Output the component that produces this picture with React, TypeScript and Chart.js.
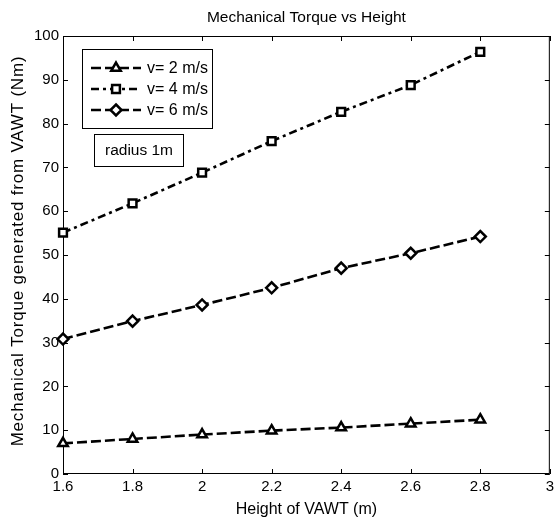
import React, { useEffect, useRef } from "react";
import { Chart, registerables } from "chart.js";

Chart.register(...registerables);

const heights = [1.6, 1.8, 2.0, 2.2, 2.4, 2.6, 2.8];
const torqueV2 = [7.0, 8.0, 9.0, 9.9, 10.6, 11.5, 12.4];
const torqueV4 = [55.1, 61.8, 68.8, 76.0, 82.7, 88.8, 96.4];
const torqueV6 = [30.8, 34.9, 38.6, 42.5, 47.0, 50.4, 54.2];
const seriesLabels = ["v= 2 m/s", "v= 4 m/s", "v= 6 m/s"];
const xTicks = [1.6, 1.8, 2, 2.2, 2.4, 2.6, 2.8, 3];
const yTicks = [0, 10, 20, 30, 40, 50, 60, 70, 80, 90, 100];
const titleText = "Mechanical Torque vs Height";
const xTitle = "Height of VAWT (m)";
const yTitle = "Mechanical Torque generated from VAWT (Nm)";
const noteText = "radius 1m";

const FONT = "'Liberation Sans', Arial, sans-serif";

function drawMarker(ctx: CanvasRenderingContext2D, style: string, x: number, y: number, r: number, bw: number) {
  ctx.beginPath();
  if (style === "triangle") {
    const h = 1.5 * r;
    const w = r * Math.sqrt(3);
    ctx.moveTo(x, y - r);
    ctx.lineTo(x + w / 2, y - r + h);
    ctx.lineTo(x - w / 2, y - r + h);
    ctx.closePath();
  } else if (style === "rect") {
    const s = r / Math.SQRT2;
    ctx.rect(x - s, y - s, 2 * s, 2 * s);
  } else {
    ctx.moveTo(x, y - r);
    ctx.lineTo(x + r, y);
    ctx.lineTo(x, y + r);
    ctx.lineTo(x - r, y);
    ctx.closePath();
  }
  ctx.fillStyle = "#fff";
  ctx.fill();
  ctx.setLineDash([]);
  ctx.lineWidth = bw;
  ctx.strokeStyle = "#000";
  ctx.stroke();
}

const framePlugin = {
  id: "frame",
  beforeDatasetsDraw(chart: any) {
    const { ctx, chartArea: a, scales } = chart;
    ctx.save();
    ctx.strokeStyle = "#000";
    ctx.lineWidth = 1;
    ctx.setLineDash([]);
    ctx.strokeRect(a.left + 0.5, a.top + 0.5, a.right - a.left - 1, a.bottom - a.top - 1);
    const L = 5;
    ctx.beginPath();
    xTicks.forEach((v) => {
      const px = Math.round(scales.x.getPixelForValue(v)) + 0.5;
      ctx.moveTo(px, a.bottom);
      ctx.lineTo(px, a.bottom - L);
      ctx.moveTo(px, a.top);
      ctx.lineTo(px, a.top + L);
    });
    yTicks.forEach((v) => {
      const py = Math.round(scales.y.getPixelForValue(v)) + 0.5;
      ctx.moveTo(a.left, py);
      ctx.lineTo(a.left + L, py);
      ctx.moveTo(a.right, py);
      ctx.lineTo(a.right - L, py);
    });
    ctx.stroke();

    // y axis title
    ctx.save();
    ctx.translate(18, (a.top + a.bottom) / 2 - 4);
    ctx.rotate(-Math.PI / 2);
    ctx.fillStyle = "#000";
    ctx.font = "17px " + FONT;
    (ctx as any).letterSpacing = "0.8px";
    ctx.textAlign = "center";
    ctx.textBaseline = "middle";
    ctx.fillText(yTitle, 0, 0);
    ctx.restore();
    ctx.restore();
  },
  afterDraw(chart: any) {
    const { ctx } = chart;
    ctx.save();
    // legend box
    const bx = 82.5, by = 49.5, bw = 130, bh = 79;
    ctx.fillStyle = "#fff";
    ctx.fillRect(bx, by, bw, bh);
    ctx.strokeStyle = "#000";
    ctx.lineWidth = 1;
    ctx.setLineDash([]);
    ctx.strokeRect(bx, by, bw, bh);
    const rows = [68, 89, 110];
    chart.data.datasets.forEach((ds: any, i: number) => {
      const y = rows[i];
      ctx.beginPath();
      ctx.setLineDash(ds.borderDash || []);
      ctx.lineWidth = ds.borderWidth;
      ctx.strokeStyle = "#000";
      ctx.moveTo(91, y);
      ctx.lineTo(141, y);
      ctx.stroke();
      drawMarker(ctx, ds.pointStyle, 116, y, ds.pointRadius, ds.pointBorderWidth);
      ctx.fillStyle = "#000";
      ctx.font = "16px " + FONT;
      ctx.textAlign = "left";
      ctx.textBaseline = "middle";
      ctx.fillText(ds.label, 147, y + 0.5);
    });
    // annotation box
    const nx = 94.5, ny = 134.5, nw = 89, nh = 32;
    ctx.fillStyle = "#fff";
    ctx.fillRect(nx, ny, nw, nh);
    ctx.setLineDash([]);
    ctx.lineWidth = 1;
    ctx.strokeStyle = "#000";
    ctx.strokeRect(nx, ny, nw, nh);
    ctx.fillStyle = "#000";
    ctx.font = "15.5px " + FONT;
    ctx.textAlign = "center";
    ctx.textBaseline = "middle";
    ctx.fillText(noteText, nx + nw / 2, ny + nh / 2 + 0.5);
    ctx.restore();
  },
};

export default function App() {
  const ref = useRef<HTMLCanvasElement>(null);
  useEffect(() => {
    if (!ref.current) return;
    const mk = (label: string, data: number[], style: string, dash: number[]) => ({
      label,
      data: heights.map((h, i) => ({ x: h, y: data[i] })),
      borderColor: "#000",
      backgroundColor: "#fff",
      borderWidth: 2.6,
      borderDash: dash,
      pointStyle: style,
      pointRadius: 5.5,
      pointBorderWidth: 2.5,
      pointBackgroundColor: "#fff",
      pointBorderColor: "#000",
      tension: 0,
      clip: false as any,
    });
    const chart = new Chart(ref.current, {
      type: "line",
      data: {
        datasets: [
          mk(seriesLabels[0], torqueV2, "triangle", [10, 4]),
          mk(seriesLabels[1], torqueV4, "rect", [8, 4, 3, 4]),
          mk(seriesLabels[2], torqueV6, "rectRot", [10, 4]),
        ],
      },
      options: {
        animation: false,
        responsive: false,
        layout: { padding: { left: 0, right: 5, top: 0, bottom: 0 } },
        plugins: {
          legend: { display: false },
          tooltip: { enabled: false },
          title: {
            display: true,
            fullSize: false,
            text: titleText,
            color: "#000",
            font: { family: FONT, size: 15.5, weight: "normal" },
            padding: { top: 8, bottom: 9.4 },
          },
        },
        scales: {
          x: {
            type: "linear",
            min: 1.6,
            max: 3,
            afterBuildTicks: (s: any) => {
              s.ticks = xTicks.map((v) => ({ value: v }));
            },
            afterFit: (s: any) => {
              s.height = 45;
            },
            grid: { display: false, drawTicks: false },
            border: { display: false },
            ticks: {
              color: "#000",
              padding: 4,
              maxRotation: 0,
              autoSkip: false,
              font: { family: FONT, size: 15 },
              callback: (v: any) => String(Math.round(Number(v) * 10) / 10),
            },
            title: {
              display: true,
              text: xTitle,
              color: "#000",
              font: { family: FONT, size: 16 },
              padding: { top: 0, bottom: 0 },
            },
          },
          y: {
            type: "linear",
            min: 0,
            max: 100,
            afterBuildTicks: (s: any) => {
              s.ticks = yTicks.map((v) => ({ value: v }));
            },
            afterFit: (s: any) => {
              s.width = 63;
            },
            grid: { display: false, drawTicks: false },
            border: { display: false },
            ticks: {
              color: "#000",
              padding: 4,
              autoSkip: false,
              font: { family: FONT, size: 15 },
            },
            title: { display: false },
          },
        },
      },
      plugins: [framePlugin],
    });
    return () => chart.destroy();
  }, []);
  return (
    <div style={{ position: "absolute", left: 0, top: 0, width: 558, height: 519, background: "#fff" }}>
      <canvas ref={ref} width={558} height={519} />
    </div>
  );
}
